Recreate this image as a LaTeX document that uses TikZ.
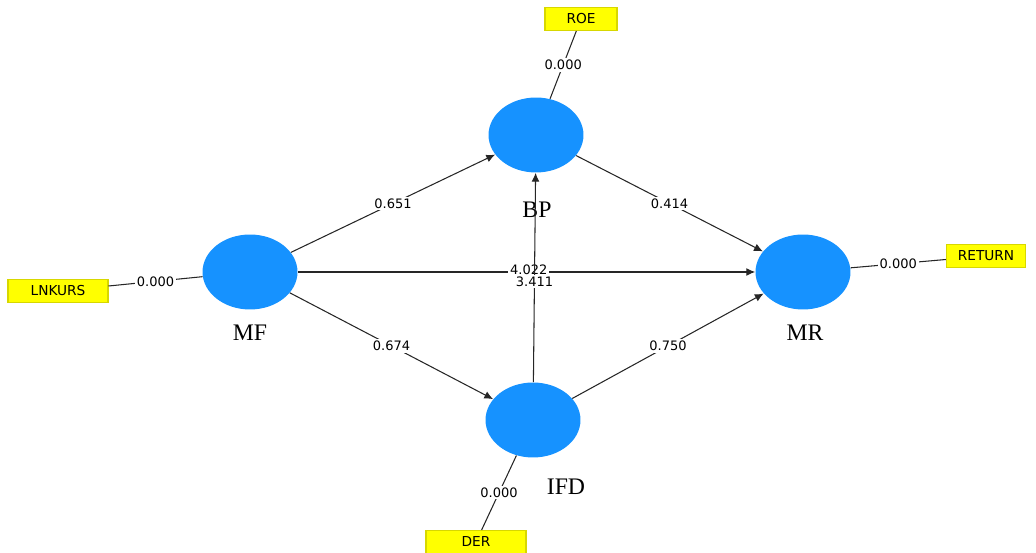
\documentclass[tikz,border=0pt]{standalone}
\usepackage{fontspec}
\setmainfont{Liberation Serif}
\newfontfamily\numfont{DejaVu Sans}
\usepackage{tikz}
\usetikzlibrary{shapes, shapes.geometric, arrows.meta, positioning}
\definecolor{lvblue}{RGB}{22,146,255}
\definecolor{boxyellow}{RGB}{255,255,0}
\definecolor{boxedge}{RGB}{215,215,0}
\tikzset{latent node/.style={ellipse, fill=lvblue, minimum width=1.9cm, minimum height=1.5cm, inner sep=0pt},
  indicator node/.style={rectangle, draw=boxedge, fill=boxyellow, line width=0.6pt, minimum height=0.46cm, font=\numfont\fontsize{7.8}{8}\selectfont},
  lv label/.style={font=\fontsize{13.5}{15}\selectfont},
  coef/.style={fill=white, inner sep=1pt, font=\numfont\fontsize{7.4}{8}\selectfont},
  path arrow/.style={-{Latex[length=5pt, width=4.5pt]}, draw=black!85, line width=0.6pt},
  loading/.style={draw=black!85, line width=0.6pt}
}

\begin{document}
\begin{tikzpicture}[x=0.02cm, y=-0.02cm]
          \useasboundingbox (0,0) rectangle (1036,553);
          % Latent variables
          \node[latent node] (MF) at (250,272) {};
          \node[latent node] (BP) at (536,135) {};
          \node[latent node] (MR) at (803,272) {};
          \node[latent node] (IFD) at (533,420) {};
          \node[lv label] (MFlab) at (250,333) {MF};
          \node[lv label] (BPlab) at (537,210) {BP};
          \node[lv label] (MRlab) at (805,333) {MR};
          \node[lv label] (IFDlab) at (566,487) {IFD};
          % Indicators
          \node[indicator node, minimum width=1.44cm] (ROE) at (581,19) {ROE};
          \node[indicator node, minimum width=2.0cm] (LNKURS) at (58,291) {LNKURS};
          \node[indicator node, minimum width=1.58cm] (RETURN) at (986,256) {RETURN};
          \node[indicator node, minimum width=2.0cm] (DER) at (476,542) {DER};
          % Loadings
          \draw[loading] (ROE) -- node[coef] {0.000} (BP);
          \draw[loading] (LNKURS) -- node[coef] {0.000} (MF);
          \draw[loading] (MR) -- node[coef] {0.000} (RETURN);
          \draw[loading] (IFD) -- node[coef] {0.000} (DER);
          % Paths
          \draw[path arrow] (MF) -- node[coef] {0.651} (BP);
          \draw[path arrow] (MF) -- node[coef] {0.674} (IFD);
          \draw[path arrow] (BP) -- node[coef] {0.414} (MR);
          \draw[path arrow] (IFD) -- node[coef] {0.750} (MR);
          \draw[path arrow] (MF) -- node[coef, pos=0.505, yshift=0.04cm] {4.022} (MR);
          \draw[path arrow] (IFD) -- node[coef, pos=0.48] {3.411} (BP);
        \end{tikzpicture}
\end{document}
